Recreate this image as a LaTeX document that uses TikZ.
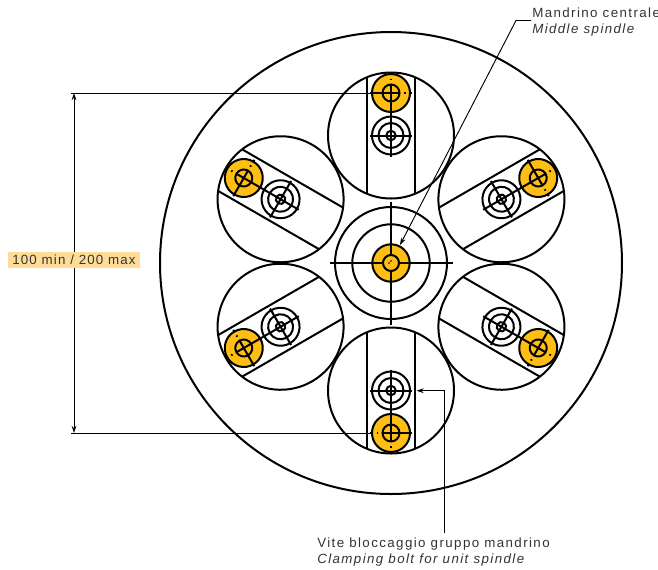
\documentclass[tikz,border=0pt]{standalone}
\usepackage{fontspec}
\setmainfont[LetterSpace=10.5]{Liberation Sans}
\usetikzlibrary{arrows.meta}
\definecolor{gold}{HTML}{FFBE14}
\definecolor{labelbg}{HTML}{FFDD99}
\definecolor{txt}{HTML}{333333}
\tikzset{
  heavy/.style={draw=black,line width=1.5pt},
  thinl/.style={draw=black,line width=0.7pt},
  tip/.style={-{Stealth[length=5.5pt,width=3.6pt,inset=2pt]}},
  txtn/.style={text=txt,font=\fontsize{10}{12}\selectfont,inner sep=0pt,anchor=base west},
}
\newcommand{\station}[1]{%
  \begin{scope}[shift={(391,-263)},rotate=#1]
    \draw[heavy] (0,127.5) circle (63);
    \begin{scope}
      \clip (0,127.5) circle (63);
      \draw[heavy] (-24,60) -- (-24,195) (24,60) -- (24,195);
    \end{scope}
    \fill[gold] (0,170) circle (19);
    \draw[heavy] (0,170) circle (19) (0,170) circle (8.5);
    \draw[heavy] (0,127.5) circle (19) (0,127.5) circle (12.5) (0,127.5) circle (4.7);
    % cross of the clamping bolt
    \draw[heavy] (-21,127.5) -- (21,127.5) (0,106.5) -- (0,170);
    % cross of the gold spindle, solid part
    \draw[heavy] (-21,170) -- (9,170) (0,170) -- (0,178);
    % dotted part
    \draw[heavy] (13,170) -- (14.5,170) (18,170) -- (21,170) (0,183) -- (0,184.5) (0,189) -- (0,190.5);
  \end{scope}}
\begin{document}
\begin{tikzpicture}[x=0.75pt,y=0.75pt]
\useasboundingbox (0,0) rectangle (658,-569);
\fill[white] (0,0) rectangle (658,-569);
\draw[heavy] (391,-263) circle (231);
\foreach \a in {0,60,120,180,240,300} {\station{\a}}
% centre
\draw[heavy] (391,-263) circle (56) (391,-263) circle (38.7);
\fill[gold] (391,-263) circle (18.7);
\draw[heavy] (391,-263) circle (18.7) (391,-263) circle (8);
\draw[heavy] (329.5,-263) -- (383,-263) (399,-263) -- (452.5,-263)
  (391,-201.5) -- (391,-255) (391,-271) -- (391,-325);
\fill (389,-263) circle (0.9) (391,-261) circle (0.9);
% dimension
\coordinate (dimtop) at (71,-93);
\coordinate (dimbot) at (71,-433);
\coordinate (dimtopend) at (372,-93);
\coordinate (dimbotend) at (372,-433);
\coordinate (dimA) at (74,-93);
\coordinate (dimB) at (74,-433);
\draw[thinl] (dimtop) -- (dimtopend) (dimbot) -- (dimbotend);
\draw[thinl,{Stealth[length=5.5pt,width=3.6pt,inset=2pt]}-{Stealth[length=5.5pt,width=3.6pt,inset=2pt]}] (dimA) -- (dimB);
\node[fill=labelbg,minimum width=99pt,minimum height=12pt,inner sep=0pt,text=txt,font=\fontsize{10}{12}\selectfont\addfontfeature{LetterSpace=8.5}] (dimlabel) at (74,-260) {100 min / 200 max};
% leaders
\node[txtn] (mid1) at (532,-17) {Mandrino centrale};
\node[txtn] (mid2) at (532,-33) {\itshape Middle spindle};
\coordinate (midkink) at (516,-20.5);
\coordinate (midend) at (531,-20.5);
\coordinate (midtip) at (400,-245);
\draw[thinl,tip] (midend) -- (midkink) -- (midtip);
\node[txtn] (clamp1) at (317,-547) {Vite bloccaggio gruppo mandrino};
\node[txtn] (clamp2) at (317,-563) {\itshape Clamping bolt for unit spindle};
\coordinate (clstart) at (444.5,-533);
\coordinate (clkink) at (444.5,-390.7);
\coordinate (cltip) at (416.5,-390.7);
\draw[thinl,tip] (clstart) -- (clkink) -- (cltip);
\end{tikzpicture}
\end{document}
